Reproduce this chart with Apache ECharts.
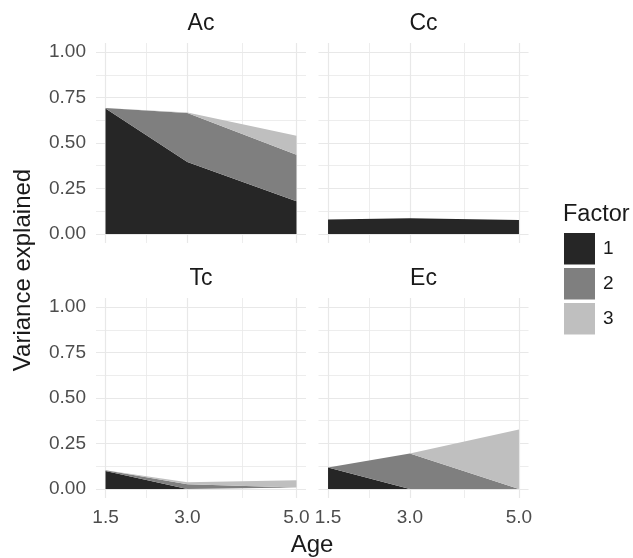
<!DOCTYPE html>
<html>
<head>
<meta charset="utf-8">
<script src="https://cdn.jsdelivr.net/npm/echarts@6/dist/echarts.min.js"></script>
<style>
  html, body { margin: 0; padding: 0; background: #fff; }
  #chart { width: 633px; height: 558px; }
</style>
</head>
<body>
<div id="chart"></div>
<script>
// facets, factors and ages
const panels = ['Ac', 'Cc', 'Tc', 'Ec']
const factors = ['1', '2', '3']
const ages = [1.5, 3.0, 5.0]

// variance explained per factor (stacked)
const acF1 = [0.69, 0.395, 0.18]
const acF2 = [0.003, 0.27, 0.256]
const acF3 = [0, 0.003, 0.104]
const ccF1 = [0.079, 0.086, 0.077]
const ccF2 = [0, 0, 0]
const ccF3 = [0, 0, 0]
const tcF1 = [0.098, 0, 0]
const tcF2 = [0.004, 0.025, 0.008]
const tcF3 = [0, 0.012, 0.04]
const ecF1 = [0.118, 0, 0]
const ecF2 = [0, 0.195, 0]
const ecF3 = [0, 0, 0.327]

// tick labels / gridlines
const xTicks = [1.5, 3.0, 5.0]
const xMinor = [2.25, 4.0]
const yTicks = [0, 0.25, 0.5, 0.75, 1.0]
const yMinor = [0.125, 0.375, 0.625, 0.875]

const panelData = [
  [acF1, acF2, acF3],
  [ccF1, ccF2, ccF3],
  [tcF1, tcF2, tcF3],
  [ecF1, ecF2, ecF3]
]
const fills = ['#262626', '#7f7f7f', '#bfbfbf']
const font = 'Liberation Sans, Arial, sans-serif'
const gridColor = '#e8e8e8'

const lefts = [96, 318.5]
const tops = [43, 298]
const grids = []
const xAxes = []
const yAxes = []
const series = []

panels.forEach((name, i) => {
  const col = i % 2
  const row = Math.floor(i / 2)
  grids.push({ left: lefts[col], top: tops[row], width: 210, height: 200, outerBoundsMode: 'none' })

  // major x axis (labels on bottom row)
  xAxes.push({
    type: 'value', gridIndex: i, min: 1.325, max: 5.175,
    axisLine: { show: false },
    axisTick: { show: false, customValues: xTicks },
    axisLabel: {
      show: row === 1, customValues: xTicks, margin: 10,
      fontSize: 19, fontFamily: font, color: '#4d4d4d',
      formatter: v => v.toFixed(1)
    },
    splitLine: { show: true, lineStyle: { color: gridColor, width: 1.2 } }
  })
  // minor x gridlines
  xAxes.push({
    type: 'value', gridIndex: i, min: 1.325, max: 5.175,
    axisLine: { show: false },
    axisTick: { show: false, customValues: xMinor },
    axisLabel: { show: false, customValues: xMinor },
    splitLine: { show: true, lineStyle: { color: gridColor, width: 0.8 } }
  })
  yAxes.push({
    type: 'value', gridIndex: i, min: -0.05, max: 1.05,
    axisLine: { show: false },
    axisTick: { show: false, customValues: yTicks },
    axisLabel: {
      show: col === 0, customValues: yTicks, margin: 10,
      fontSize: 19, fontFamily: font, color: '#4d4d4d',
      formatter: v => v.toFixed(2)
    },
    splitLine: { show: true, lineStyle: { color: gridColor, width: 1.2 } }
  })
  yAxes.push({
    type: 'value', gridIndex: i, min: -0.05, max: 1.05,
    axisLine: { show: false },
    axisTick: { show: false, customValues: yMinor },
    axisLabel: { show: false, customValues: yMinor },
    splitLine: { show: true, lineStyle: { color: gridColor, width: 0.8 } }
  })

  factors.forEach((f, k) => {
    series.push({
      name: f,
      type: 'line',
      xAxisIndex: i * 2,
      yAxisIndex: i * 2,
      stack: name,
      // value first so the stack is applied on y, not on age
      data: ages.map((a, j) => [panelData[i][k][j], a]),
      encode: { x: 1, y: 0 },
      symbol: 'none',
      color: fills[k],
      itemStyle: { color: fills[k] },
      lineStyle: { width: 0 },
      areaStyle: { color: fills[k], opacity: 1 },
      emphasis: { disabled: true },
      silent: true
    })
  })
})

const textStyle = (text, x, y, size, extra) => Object.assign({
  type: 'text', x: x, y: y,
  style: { text: text, font: size + 'px ' + font, fill: '#1a1a1a', align: 'center', verticalAlign: 'middle' }
}, extra || {})

const chart = echarts.init(document.getElementById('chart'))
chart.setOption({
  animation: false,
  backgroundColor: '#fff',
  grid: grids,
  xAxis: xAxes,
  yAxis: yAxes,
  series: series,
  legend: {
    data: factors,
    orient: 'vertical',
    left: 564, top: 233,
    padding: 0,
    icon: 'rect',
    itemWidth: 31, itemHeight: 31.5, itemGap: 3.5,
    selectedMode: false,
    textStyle: { fontSize: 19, fontFamily: font, color: '#1a1a1a', padding: [0, 0, 0, 3] }
  },
  graphic: [
    textStyle('Ac', 201, 24, 23),
    textStyle('Cc', 423.5, 24, 23),
    textStyle('Tc', 201, 279, 23),
    textStyle('Ec', 423.5, 279, 23),
    textStyle('Age', 312, 545, 24),
    textStyle('Variance explained', 23, 270, 24, { rotation: Math.PI / 2 }),
    { type: 'text', left: 563, top: 203,
      style: { text: 'Factor', font: '23.5px ' + font, fill: '#1a1a1a' } }
  ]
})
</script>
</body>
</html>
